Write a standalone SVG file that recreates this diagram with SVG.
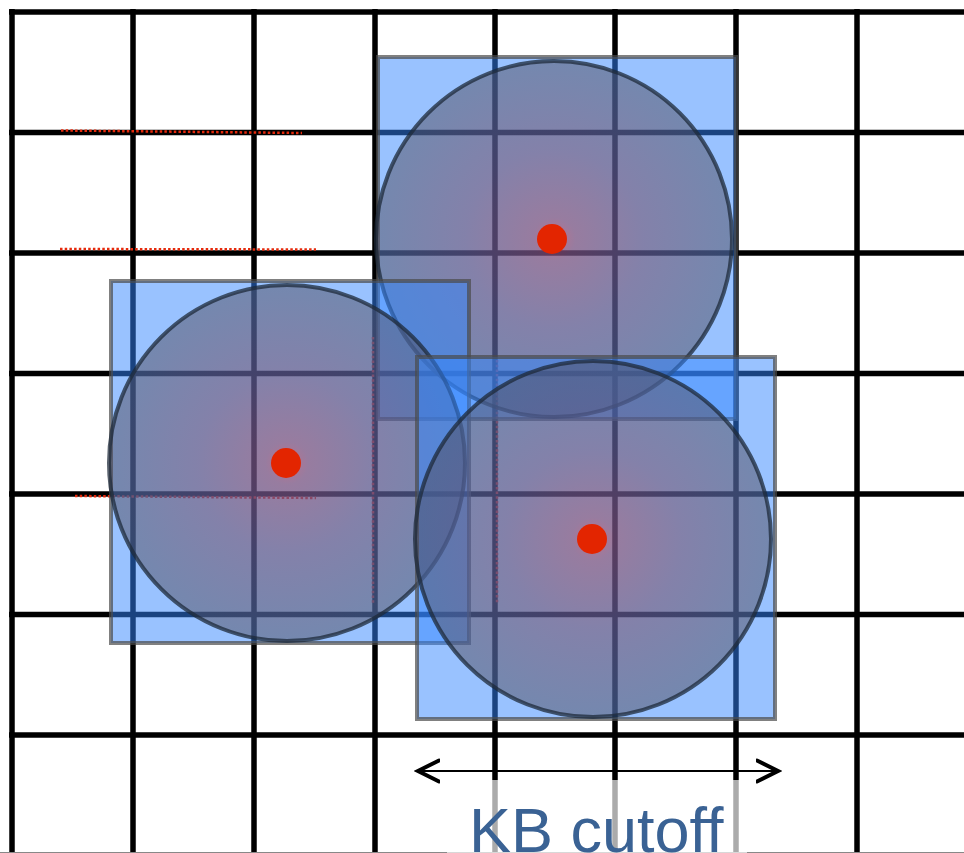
<svg xmlns="http://www.w3.org/2000/svg" width="964" height="853" viewBox="0 0 964 853">
  <defs>
    <style>
      .grid line { stroke: #000; stroke-width: 5.5; }
      .dots { stroke: #e62a0c; stroke-width: 2.5; stroke-dasharray: 2.5 2.2; fill: none; }
      .box { fill: rgb(51,133,255); fill-opacity: 0.5; stroke: #4a4a4a; stroke-opacity: 0.7; stroke-width: 4; }
      .disc { fill: url(#glow); fill-opacity: 0.5; stroke: #1e2a3a; stroke-opacity: 0.75; stroke-width: 4; }
      .dot { fill: #e32500; }
      .arrow { stroke: #000; stroke-width: 2; fill: none; marker-start: url(#chev); marker-end: url(#chev); }
      .label { font-family: "Liberation Sans", Arial, sans-serif; font-size: 63px; fill: #3a6294; }
    </style>
    <radialGradient id="glow" cx="0.5" cy="0.5" r="0.5">
      <stop offset="0" stop-color="rgb(215,35,30)"/>
      <stop offset="0.12" stop-color="rgb(150,55,65)"/>
      <stop offset="0.5" stop-color="rgb(110,65,85)"/>
      <stop offset="1" stop-color="rgb(80,78,95)"/>
    </radialGradient>
    <marker id="chev" viewBox="0 -13 26 26" refX="22" refY="0" markerWidth="26" markerHeight="26" markerUnits="userSpaceOnUse" orient="auto-start-reverse">
      <path d="M1,-10.5 L22,0 L1,10.5" fill="none" stroke="#000" stroke-width="4" stroke-linecap="round" stroke-linejoin="miter"/>
    </marker>
  </defs>

  <rect x="0" y="0" width="964" height="853" fill="#fff"/>

  <g id="grid" class="grid">
    <line x1="9" y1="12" x2="964" y2="12"/>
    <line x1="9" y1="132.5" x2="964" y2="132.5"/>
    <line x1="9" y1="253" x2="964" y2="253"/>
    <line x1="9" y1="373.5" x2="964" y2="373.5"/>
    <line x1="9" y1="494" x2="964" y2="494"/>
    <line x1="9" y1="614.5" x2="964" y2="614.5"/>
    <line x1="9" y1="735" x2="964" y2="735"/>
    <line x1="12" y1="9" x2="12" y2="853"/>
    <line x1="133" y1="9" x2="133" y2="853"/>
    <line x1="254" y1="9" x2="254" y2="853"/>
    <line x1="375" y1="9" x2="375" y2="853"/>
    <line x1="495" y1="9" x2="495" y2="853"/>
    <line x1="615" y1="9" x2="615" y2="853"/>
    <line x1="736" y1="9" x2="736" y2="853"/>
    <line x1="857" y1="9" x2="857" y2="853"/>
  </g>
  <line x1="0" y1="852.5" x2="964" y2="852.5" stroke="#888" stroke-width="1"/>

  <g id="residuals" class="dots">
    <line x1="61" y1="130.5" x2="302" y2="133"/>
    <line x1="60" y1="249" x2="316" y2="249.5"/>
    <line x1="75" y1="496" x2="316" y2="498"/>
    <line x1="373" y1="337" x2="373" y2="603"/>
    <line x1="497" y1="360" x2="497" y2="603"/>
  </g>

  <g id="nodeA">
    <rect class="box" x="378" y="57" width="358" height="362"/>
    <circle class="disc" cx="554" cy="239" r="178"/>
    <circle class="dot" cx="552" cy="239" r="15"/>
  </g>
  <g id="nodeB">
    <rect class="box" x="111" y="281" width="358" height="362"/>
    <circle class="disc" cx="287" cy="463" r="178"/>
    <circle class="dot" cx="286" cy="463" r="15"/>
  </g>
  <g id="nodeC">
    <rect class="box" x="417" y="357" width="358" height="362"/>
    <circle class="disc" cx="593" cy="539" r="178"/>
    <circle class="dot" cx="592" cy="539" r="15"/>
  </g>

  <g id="connectors">
    <line class="arrow" x1="418" y1="771" x2="778" y2="771"/>
  </g>

  <g id="caption">
    <rect x="447" y="780" width="300" height="73" fill="#fff" fill-opacity="0.67"/>
    <text class="label" x="469" y="852">KB cutoff</text>
  </g>
</svg>
